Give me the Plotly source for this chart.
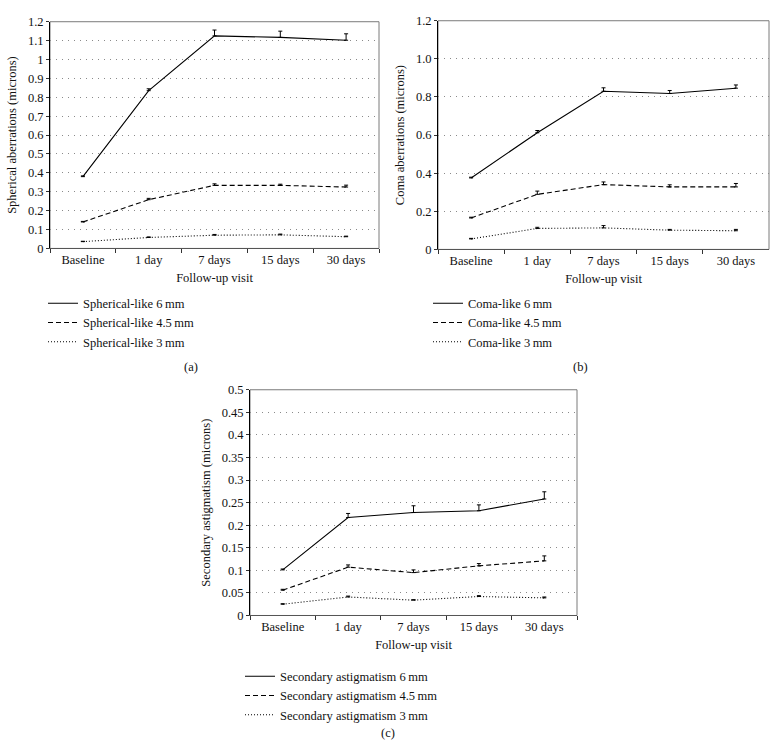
import plotly.graph_objects as go

W, H = 777, 754

categories = ["Baseline", "1 day", "7 days", "15 days", "30 days"]

# Panel (a) spherical-like
sph_6 = [0.38, 0.835, 1.125, 1.117, 1.102]
sph_6_err = [0.004, 0.010, 0.031, 0.033, 0.034]
sph_45 = [0.14, 0.258, 0.334, 0.334, 0.325]
sph_45_err = [0.003, 0.007, 0.008, 0.006, 0.010]
sph_3 = [0.036, 0.058, 0.070, 0.072, 0.062]
sph_3_err = [0.002, 0.003, 0.004, 0.004, 0.003]

# Panel (b) coma-like
coma_6 = [0.375, 0.612, 0.830, 0.818, 0.846]
coma_6_err = [0.004, 0.012, 0.018, 0.016, 0.017]
coma_45 = [0.165, 0.289, 0.340, 0.328, 0.328]
coma_45_err = [0.004, 0.017, 0.014, 0.011, 0.018]
coma_3 = [0.055, 0.110, 0.113, 0.101, 0.098]
coma_3_err = [0.003, 0.006, 0.012, 0.004, 0.007]

# Panel (c) secondary astigmatism
sec_6 = [0.101, 0.217, 0.228, 0.232, 0.258]
sec_6_err = [0.002, 0.009, 0.015, 0.013, 0.016]
sec_45 = [0.056, 0.107, 0.095, 0.110, 0.121]
sec_45_err = [0.002, 0.005, 0.006, 0.005, 0.011]
sec_3 = [0.025, 0.041, 0.034, 0.042, 0.039]
sec_3_err = [0.001, 0.002, 0.001, 0.002, 0.002]

ticks_a = [0, 0.1, 0.2, 0.3, 0.4, 0.5, 0.6, 0.7, 0.8, 0.9, 1, 1.1, 1.2]
ticklabels_a = ["0", "0.1", "0.2", "0.3", "0.4", "0.5", "0.6", "0.7", "0.8", "0.9", "1", "1.1", "1.2"]
ticks_b = [0, 0.2, 0.4, 0.6, 0.8, 1.0, 1.2]
ticklabels_b = ["0", "0.2", "0.4", "0.6", "0.8", "1.0", "1.2"]
ticks_c = [0, 0.05, 0.1, 0.15, 0.2, 0.25, 0.3, 0.35, 0.4, 0.45, 0.5]
ticklabels_c = ["0", "0.05", "0.1", "0.15", "0.2", "0.25", "0.3", "0.35", "0.4", "0.45", "0.5"]

FONT = "Liberation Serif, Times New Roman, Times, serif"
FS = 12.5
TXT = "#111"

def px_x(a, b):
    return [a / W, b / W]

def px_y(top, bottom):
    return [1 - bottom / H, 1 - top / H]

panels = [
    dict(x="x", y="y", xa="xaxis", ya="yaxis", legend="legend",
         dx=px_x(50, 379), dy=px_y(15, 246),
         series=[("Spherical-like 6\u2009mm", sph_6, sph_6_err, "solid"),
                 ("Spherical-like 4.5\u2009mm", sph_45, sph_45_err, "5px,3px"),
                 ("Spherical-like 3\u2009mm", sph_3, sph_3_err, "1px,2px")],
         ytitle="Spherical aberrations (microns)", yrange=[0, 1.2],
         ticks=ticks_a, labels=ticklabels_a),
    dict(x="x2", y="y2", xa="xaxis2", ya="yaxis2", legend="legend2",
         dx=px_x(438, 769), dy=px_y(14, 247),
         series=[("Coma-like 6\u2009mm", coma_6, coma_6_err, "solid"),
                 ("Coma-like 4.5\u2009mm", coma_45, coma_45_err, "5px,3px"),
                 ("Coma-like 3\u2009mm", coma_3, coma_3_err, "1px,2px")],
         ytitle="Coma aberrations (microns)", yrange=[0, 1.2],
         ticks=ticks_b, labels=ticklabels_b),
    dict(x="x3", y="y3", xa="xaxis3", ya="yaxis3", legend="legend3",
         dx=px_x(250, 577), dy=px_y(390, 620),
         series=[("Secondary astigmatism 6\u2009mm", sec_6, sec_6_err, "solid"),
                 ("Secondary astigmatism 4.5\u2009mm", sec_45, sec_45_err, "5px,3px"),
                 ("Secondary astigmatism 3\u2009mm", sec_3, sec_3_err, "1px,2px")],
         ytitle="Secondary astigmatism (microns)", yrange=[0, 0.5],
         ticks=ticks_c, labels=ticklabels_c),
]

fig = go.Figure()
layout = dict(
    width=W, height=H, margin=dict(l=0, r=0, t=0, b=0),
    paper_bgcolor="white", plot_bgcolor="white",
    font=dict(family=FONT, size=FS, color=TXT),
    shapes=[], annotations=[],
)

legend_pos = {"legend": (43, 287), "legend2": (428, 287), "legend3": (240, 667)}

for p in panels:
    for name, vals, err, dash in p["series"]:
        fig.add_trace(go.Scatter(
            x=categories, y=vals, name=name, mode="lines",
            line=dict(color="black", width=1.1, dash=dash),
            error_y=dict(type="data", symmetric=False, array=err,
                         arrayminus=[0] * len(err), color="black",
                         thickness=1, width=2),
            xaxis=p["x"], yaxis=p["y"], legend=p["legend"],
        ))
    layout[p["xa"]] = dict(
        domain=p["dx"], anchor=p["y"], type="category",
        categoryorder="array", categoryarray=categories,
        range=[-0.5, 4.5], tickson="boundaries", ticks="outside",
        ticklen=4, tickcolor="#333", showline=True, linecolor="#555",
        linewidth=1, showgrid=False, zeroline=False,
        tickfont=dict(family=FONT, size=FS, color=TXT),
        title=dict(text="Follow-up visit", standoff=6,
                   font=dict(family=FONT, size=FS, color=TXT)),
        fixedrange=True,
    )
    layout[p["ya"]] = dict(
        domain=p["dy"], anchor=p["x"], range=p["yrange"],
        tickmode="array", tickvals=p["ticks"], ticktext=p["labels"],
        ticks="outside", ticklen=3, tickcolor="#333",
        showline=True, linecolor="black", linewidth=1,
        showgrid=True, gridcolor="#8a8a8a", gridwidth=1, griddash="1px,5px",
        zeroline=False,
        tickfont=dict(family=FONT, size=FS, color=TXT),
        title=dict(text=p["ytitle"], standoff=8,
                   font=dict(family=FONT, size=FS, color=TXT)),
        fixedrange=True,
    )
    layout["shapes"].append(dict(
        type="rect", xref=p["x"] + " domain", yref=p["y"] + " domain",
        x0=0, x1=1, y0=0, y1=1, line=dict(color="#7a7a7a", width=1),
        fillcolor="rgba(0,0,0,0)", layer="below",
    ))
    lx, ly = legend_pos[p["legend"]]
    layout[p["legend"]] = dict(
        x=lx / W, y=1 - ly / H, xanchor="left", yanchor="top",
        bgcolor="rgba(0,0,0,0)", borderwidth=0, itemwidth=30,
        tracegroupgap=0, font=dict(family=FONT, size=FS, color=TXT),
        itemclick=False, itemdoubleclick=False,
    )

for lbl, cx, cy in [("(a)", 191, 367), ("(b)", 580, 367), ("(c)", 388, 740)]:
    layout["annotations"].append(dict(
        text=lbl, x=cx / W, y=1 - cy / H, xref="paper", yref="paper",
        showarrow=False, xanchor="center", yanchor="middle",
        font=dict(family=FONT, size=FS, color=TXT),
    ))

fig.update_layout(**layout)
fig.write_html(
    "out.html",
    config={"displayModeBar": False},
    post_script="document.body.style.margin='0';document.body.style.padding='0';"
                "document.documentElement.style.overflow='hidden';",
)
